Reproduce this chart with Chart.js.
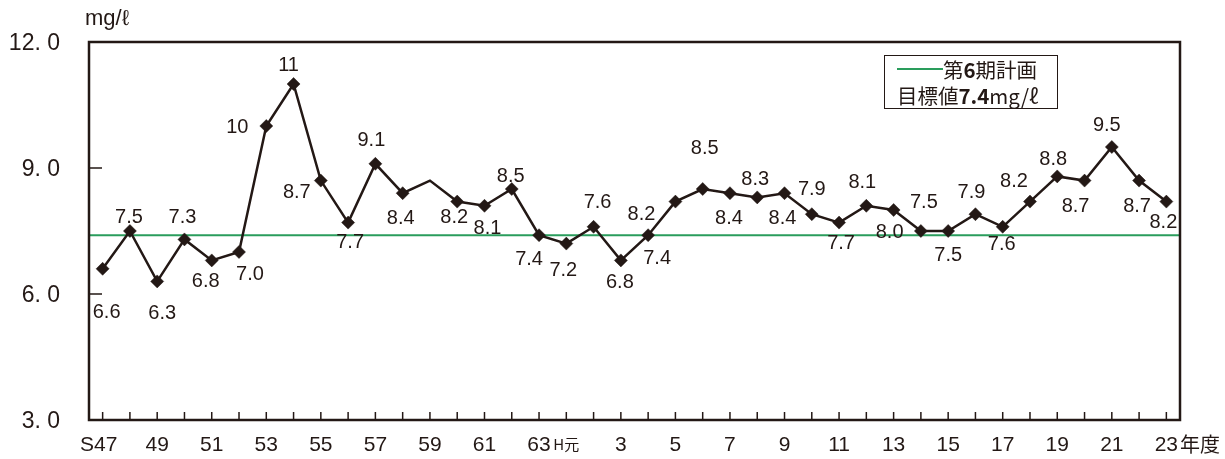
<!DOCTYPE html>
<html>
<head>
<meta charset="utf-8">
<script src="https://cdn.jsdelivr.net/npm/chart.js@4.4.1/dist/chart.umd.min.js"></script>
<style>
  html, body { margin: 0; padding: 0; background: #fff; }
  #wrap { width: 1225px; height: 459px; position: relative; }
</style>
</head>
<body>
<div id="wrap"><canvas id="c" width="1225" height="459"></canvas></div>
<script>
// Fiscal years S47 (1972) .. H23 (2011)
const years = [
  'S47','S48','S49','S50','S51','S52','S53','S54','S55','S56','S57','S58','S59','S60','S61','S62','S63',
  'H元','H2','H3','H4','H5','H6','H7','H8','H9','H10','H11','H12','H13','H14','H15','H16','H17','H18','H19','H20','H21','H22','H23'
];
// Annual mean (mg/ℓ)
const values = [
  6.6, 7.5, 6.3, 7.3, 6.8, 7.0, 10, 11, 8.7, 7.7, 9.1, 8.4, 8.7, 8.2, 8.1, 8.5, 7.4,
  7.2, 7.6, 6.8, 7.4, 8.2, 8.5, 8.4, 8.3, 8.4, 7.9, 7.7, 8.1, 8.0, 7.5, 7.5, 7.9, 7.6, 8.2, 8.8, 8.7, 9.5, 8.7, 8.2
];
// Years drawn without marker / value label
const unmarkedYears = ['S59'];
// Axis tick text
const xTickLabels = [
  'S47','','49','','51','','53','','55','','57','','59','','61','','63',
  'H元','','3','','5','','7','','9','','11','','13','','15','','17','','19','','21','','23'
];
const xUnit = '年度';
const yTickValues = [3, 6, 9, 12];
const yTickLabels = ['3. 0', '6. 0', '9. 0', '12. 0'];
const yUnit = 'mg/ℓ';
// Target of the 6th plan
const targetValue = 7.4;
const legendLine1 = ['第', '6', '期計画'];
const legendLine2 = ['目標値', '7.4', 'mg/ℓ'];

// Placement of each value label relative to its marker (px)
const labelOffsets = [
  [4,44],[-1,-14],[5,32],[-2,-22],[-6,21],[11,22],[-29,1],[-5,-19],[-24,12],[2,20],
  [-4,-23],[-2,25],null,[-3,16],[3,23],[-1,-13],[-10,24],[-3,27],[4,-24],[-1,22],
  [9,23],[-34,13],[2,-41],[-1,25],[-2,-18],[-2,25],[0,-25],[2,21],[-4,-23],[-4,22],
  [3,-29],[0,24],[-4,-22],[-1,18],[-16,-20],[-4,-17],[-9,26],[-5,-22],[-2,26],[-3,21]
];

const INK = '#231815';
const GREEN = '#2a9d5c';
const NUM_FONT = '"Liberation Sans", Arial, sans-serif';
const NARROW_FONT = '"Liberation Sans Narrow", "Liberation Sans", Arial, sans-serif';
const JP_FONT = '"Noto Sans CJK JP", "Noto Sans", sans-serif';

const fmt = v => (v >= 10 ? v.toFixed(0) : v.toFixed(1));

const decor = {
  id: 'decor',
  beforeDatasetsDraw(chart) {
    const { ctx, chartArea: a, scales: { y } } = chart;
    const ty = y.getPixelForValue(targetValue);
    ctx.save();
    ctx.strokeStyle = GREEN;
    ctx.lineWidth = 2;
    ctx.beginPath();
    ctx.moveTo(a.left, ty);
    ctx.lineTo(a.right, ty);
    ctx.stroke();
    ctx.restore();
  },
  afterDatasetsDraw(chart) {
    const { ctx, chartArea: a, scales: { x, y } } = chart;
    ctx.save();
    // frame
    ctx.strokeStyle = INK;
    ctx.lineWidth = 2.5;
    ctx.strokeRect(a.left, a.top, a.right - a.left, a.bottom - a.top);

    // inner ticks
    ctx.lineWidth = 1.5;
    ctx.beginPath();
    years.forEach((_, i) => {
      const px = x.getPixelForValue(i);
      ctx.moveTo(px, a.bottom);
      ctx.lineTo(px, a.bottom - 8);
    });
    yTickValues.forEach(v => {
      const py = y.getPixelForValue(v);
      ctx.moveTo(a.left, py);
      ctx.lineTo(a.left + 13, py);
    });
    ctx.stroke();

    // y tick labels
    ctx.fillStyle = INK;
    ctx.font = '23px ' + NUM_FONT;
    ctx.textAlign = 'right';
    ctx.textBaseline = 'middle';
    yTickValues.forEach((v, i) => {
      ctx.fillText(yTickLabels[i], 60, y.getPixelForValue(v) + 2);
    });
    // y unit
    ctx.textAlign = 'left';
    ctx.font = '22px ' + NUM_FONT;
    ctx.fillText(yUnit, 85, 19);

    // x tick labels
    ctx.textAlign = 'center';
    xTickLabels.forEach((t, i) => {
      if (!t) return;
      const px = x.getPixelForValue(i);
      if (t === 'H元') {
        ctx.font = '15px ' + JP_FONT;
        ctx.fillText(t, px, 444);
      } else if (t.startsWith('S')) {
        ctx.font = '21px ' + NARROW_FONT;
        ctx.fillText(t, px - 4, 445);
      } else {
        ctx.font = '21px ' + NARROW_FONT;
        ctx.fillText(t, px, 445);
      }
    });
    // unit after last tick label
    const lastX = x.getPixelForValue(years.length - 1);
    ctx.font = '21px ' + NARROW_FONT;
    const lw = ctx.measureText(xTickLabels[xTickLabels.length - 1]).width;
    ctx.textAlign = 'left';
    ctx.font = '20px ' + JP_FONT;
    ctx.fillText(xUnit, lastX + lw / 2 + 2, 444);

    // value labels
    ctx.textAlign = 'center';
    ctx.font = '20px ' + NUM_FONT;
    values.forEach((v, i) => {
      const off = labelOffsets[i];
      if (!off || unmarkedYears.includes(years[i])) return;
      const px = x.getPixelForValue(i);
      const py = y.getPixelForValue(v);
      ctx.fillText(fmt(v), px + off[0], py + off[1]);
    });

    // legend box
    ctx.lineWidth = 1;
    ctx.strokeStyle = INK;
    ctx.strokeRect(884.5, 55.5, 173, 53);
    ctx.strokeStyle = GREEN;
    ctx.lineWidth = 2;
    ctx.beginPath();
    ctx.moveTo(897, 69);
    ctx.lineTo(943, 69);
    ctx.stroke();
    const drawRun = (parts, sx, sy) => {
      let cx = sx;
      ctx.textAlign = 'left';
      parts.forEach(p => {
        const bold = /^[0-9.]+$/.test(p);
        ctx.font = (bold ? 'bold ' : '') + '20.5px ' + JP_FONT;
        ctx.fillText(p, cx, sy);
        cx += ctx.measureText(p).width;
      });
    };
    ctx.fillStyle = INK;
    drawRun(legendLine1, 943, 70);
    drawRun(legendLine2, 897, 96);
    ctx.restore();
  }
};

new Chart(document.getElementById('c'), {
  type: 'line',
  data: {
    labels: years,
    datasets: [{
      data: values,
      borderColor: INK,
      borderWidth: 2.5,
      backgroundColor: INK,
      pointStyle: 'rectRot',
      pointRadius: ctx => unmarkedYears.includes(years[ctx.dataIndex]) ? 0 : 6.5,
      pointBorderWidth: 0.5,
      pointBorderColor: INK,
      pointBackgroundColor: INK,
      tension: 0,
      clip: false
    }]
  },
  options: {
    responsive: false,
    animation: false,
    devicePixelRatio: 1,
    layout: { padding: { left: 89, top: 42, right: 45, bottom: 39 } },
    plugins: { legend: { display: false }, tooltip: { enabled: false } },
    scales: {
      x: { type: 'category', offset: true, display: false },
      y: { type: 'linear', min: 3, max: 12, display: false }
    }
  },
  plugins: [decor]
});
</script>
</body>
</html>
